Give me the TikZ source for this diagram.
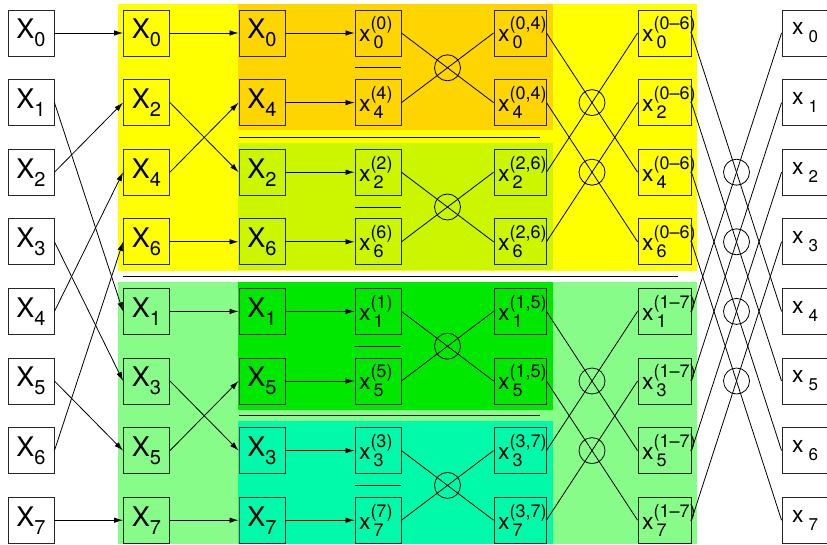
\documentclass[tikz,border=0pt]{standalone}
\usepackage{fontspec}
\setmainfont{TeX Gyre Heros}
\usetikzlibrary{arrows.meta,calc}

\definecolor{stageyellow}{RGB}{255,255,0}
\definecolor{pairorange}{RGB}{255,213,0}
\definecolor{pairlime}{RGB}{204,246,0}
\definecolor{stagegreen}{RGB}{136,252,136}
\definecolor{pairgreen}{RGB}{0,232,0}
\definecolor{pairteal}{RGB}{0,250,170}

% labels: X_k, x_k^(..), output x_k
\newcommand{\Xk}[1]{X\raisebox{-8pt}{\fontsize{20}{20}\selectfont #1}}
\newcommand{\xk}[2]{x\makebox[0pt][l]{\hspace{3pt}\raisebox{-7pt}{\fontsize{18}{18}\selectfont #1}}\raisebox{12pt}{\fontsize{18}{18}\selectfont(#2)}}
\newcommand{\xout}[1]{x\hspace{5pt}\raisebox{-8pt}{\fontsize{17}{17}\selectfont #1}}

\begin{document}
\begin{tikzpicture}[
    x=1pt, y=-1pt,
    inbox/.style={draw=black!85, line width=0.9pt, minimum width=46, minimum height=46, inner sep=0, font=\fontsize{27}{27}\selectfont},
    outbox/.style={draw=black!85, line width=0.9pt, minimum width=46, minimum height=46, inner sep=0, font=\fontsize{23}{23}\selectfont},
    xbox/.style={draw=black!85, line width=0.9pt, minimum height=46, text width=#1, inner xsep=4, inner ysep=0, align=left, font=\fontsize{23}{23}\selectfont},
    mult/.style={circle, draw, line width=0.8pt, minimum size=26, inner sep=0},
    flow/.style={-{Latex[length=9pt,width=5.5pt]}, line width=0.8pt},
    wire/.style={line width=0.8pt}
]
\useasboundingbox (0,0) rectangle (827,544);

% coloured stages
\fill[stageyellow] (118,4) rectangle (697,271);
\fill[pairorange] (238,4) rectangle (553,130);
\fill[pairlime] (238,143) rectangle (553,270);
\fill[stagegreen] (118,282) rectangle (697,544);
\fill[pairgreen] (238,282) rectangle (553,410);
\fill[pairteal] (238,421) rectangle (553,544);
\draw[wire] (239,137) -- (540,137);
\draw[wire] (123,276) -- (678,276);
\draw[wire] (239,415) -- (540,415);

% columns
\foreach \k in {0,...,7}
  \node[inbox] (a\k) at (31,{33+69.6*\k}) {\Xk{\k}};
\foreach \k [count=\r from 0] in {0,2,4,6,1,3,5,7}
  \node[inbox] (b\r) at (146.5,{33+69.6*\r}) {\Xk{\k}};
\foreach \k [count=\r from 0] in {0,4,2,6,1,5,3,7}{
  \node[inbox] (c\r) at (262,{33+69.6*\r}) {\Xk{\k}};
  \node[xbox=38] (d\r) at (378,{33+69.6*\r}) {\xk{\k}{\k}};
}
\foreach \k/\s [count=\r from 0] in {0/{0,4},4/{0,4},2/{2,6},6/{2,6},1/{1,5},5/{1,5},3/{3,7},7/{3,7}}
  \node[xbox=44] (e\r) at (520,{33+69.6*\r}) {\xk{\k}{\s}};
\foreach \k/\s [count=\r from 0] in {0/0--6,2/0--6,4/0--6,6/0--6,1/1--7,3/1--7,5/1--7,7/1--7}
  \node[xbox=45] (f\r) at (664.5,{33+69.6*\r}) {\xk{\k}{\s}};
\foreach \k in {0,...,7}
  \node[outbox] (g\k) at (805,{33+69.6*\k}) {\xout{\k}};

% reordering
\foreach \i/\j in {0/0,1/4,2/1,3/5,4/2,5/6,6/3,7/7}
  \draw[flow] (a\i.east) -- (b\j.west);
\foreach \i/\j in {0/0,1/2,2/1,3/3,4/4,5/6,6/5,7/7}
  \draw[flow] (b\i.east) -- (c\j.west);
\foreach \i in {0,...,7}
  \draw[flow] (c\i.east) -- (d\i.west);

% butterflies
\foreach \i/\j in {0/1,2/3,4/5,6/7}{
  \draw[wire] ($(d\i.south west)!.5!(d\j.north west)$) -- ($(d\i.south east)!.5!(d\j.north east)$);
  \draw[wire] (d\i.east) -- (e\j.west);
  \draw[wire] (d\j.east) -- (e\i.west);
  \node[mult] (dm\i) at ($(d\i.east)!.5!(e\j.west)$) {};
}
\foreach \i/\j in {0/2,1/3,4/6,5/7}{
  \draw[wire] (e\i.east) -- (f\j.west);
  \draw[wire] (e\j.east) -- (f\i.west);
  \node[mult] (em\i) at ($(e\i.east)!.5!(f\j.west)$) {};
}
\foreach \i/\j in {0/4,1/5,2/6,3/7}{
  \draw[wire] (f\i.east) -- (g\j.west);
  \draw[wire] (f\j.east) -- (g\i.west);
  \node[mult] (fm\i) at ($(f\i.east)!.5!(g\j.west)$) {};
}
\end{tikzpicture}
\end{document}
